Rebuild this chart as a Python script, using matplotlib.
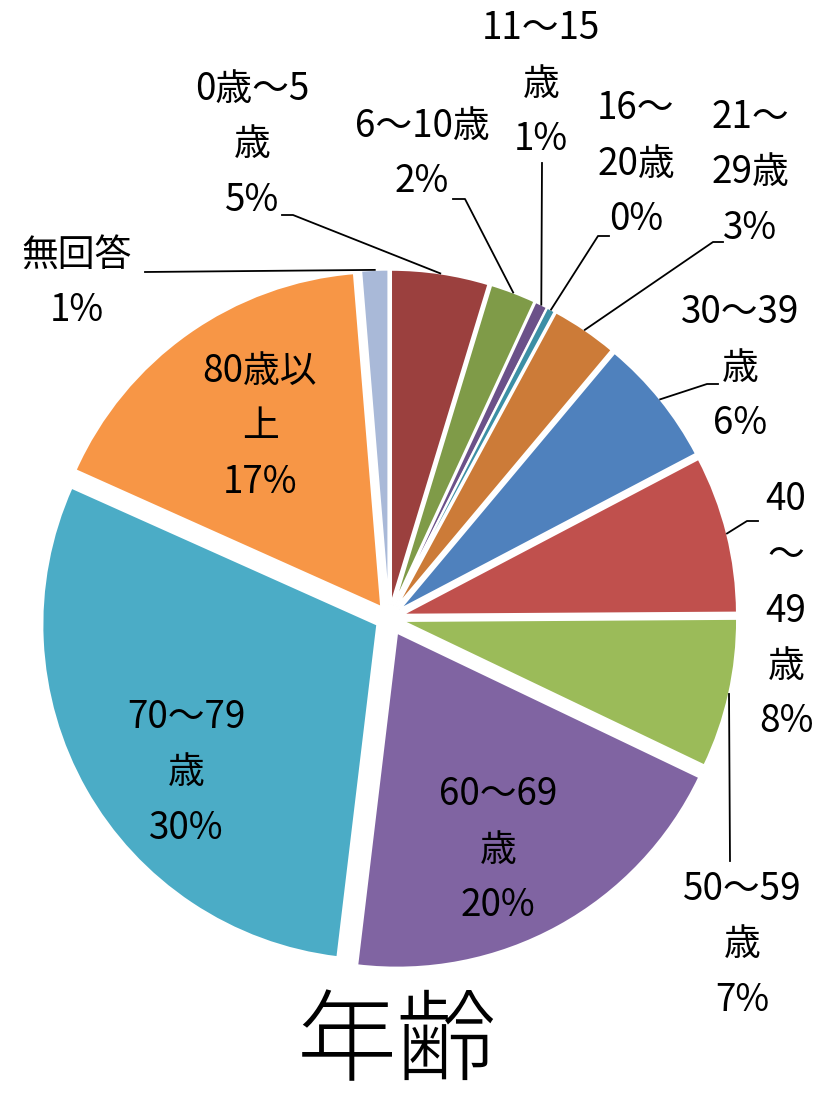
import matplotlib
matplotlib.use('Agg')
import matplotlib.pyplot as plt
import numpy as np

plt.rcParams['font.family'] = ['Noto Sans CJK JP', 'DejaVu Sans']

# data (percent shares)
categories = ['0歳～5歳', '6～10歳', '11～15歳', '16～20歳', '21～29歳', '30～39歳',
              '40～49歳', '50～59歳', '60～69歳', '70～79歳', '80歳以上', '無回答']
wrapped = ['0歳～5\n歳', '6～10歳', '11～15\n歳', '16～\n20歳', '21～\n29歳', '30～39\n歳',
           '40\n～\n49\n歳', '50～59\n歳', '60～69\n歳', '70～79\n歳', '80歳以\n上', '無回答']
values = [4.7, 2.2, 0.6, 0.4, 3.2, 6.2, 7.6, 7.2, 19.8, 29.8, 17.0, 1.3]
colors = ['#9B403E', '#7F9B48', '#6B5189', '#3C8FA5', '#CC7B38', '#4F81BD',
          '#C0504D', '#9BBB59', '#8064A2', '#4BACC6', '#F79646', '#A9B9D8']

W, H = 814, 1096
fig = plt.figure(figsize=(W / 100, H / 100), dpi=100)
ax = fig.add_axes([0, 0, 1, 1])

cx, cy, r = 389, H - 618, 335
explode = [0.04 * r] * len(values)
explode[8] = 0.05 * r
wedges, _ = ax.pie(values, colors=colors, startangle=90, counterclock=False,
                   radius=r, center=(cx, cy), explode=explode,
                   wedgeprops=dict(edgecolor='white', linewidth=1.5))
ax.set_xlim(0, W)
ax.set_ylim(0, H)
ax.set_aspect('equal')
ax.axis('off')

# label centres and leader starts, in pixels from top-left (None = label inside slice)
label_pos = [(252, 145), (422, 154), (541, 84), (636, 164), (750, 173), (740, 368),
             (786, 611), (742, 945), (498, 850), (186, 773), (260, 427), (77, 283)]
leaders = [((282, 215), (293, 215)), ((453, 199), (465, 199)), ((542, 163), (542, 163)),
           ((609, 236), (598, 236)), ((723, 242), (713, 242)), ((718, 384), (707, 384)),
           ((758, 521), (747, 521)), ((730, 861), (730, 861)), None, None, None,
           ((145, 272), (145, 272))]

for w, txt, v, (px, py), ld in zip(wedges, wrapped, values, label_pos, leaders):
    ax.text(px, H - py, f'{txt}\n{v:.0f}%', ha='center', va='center',
            fontsize=26.5, linespacing=1.55, color='black')
    if ld is not None:
        th = np.deg2rad((w.theta1 + w.theta2) / 2)
        wx = w.center[0] + w.r * np.cos(th)
        wy = w.center[1] + w.r * np.sin(th)
        (sx, sy), (ex, ey) = ld
        ax.plot([sx, ex, wx], [H - sy, H - ey, wy], color='black', lw=1.3)

ax.text(397, H - 1045, '年齢', ha='center', va='center', fontsize=72,
        fontweight='light')

fig.savefig('out.png', dpi=100)
